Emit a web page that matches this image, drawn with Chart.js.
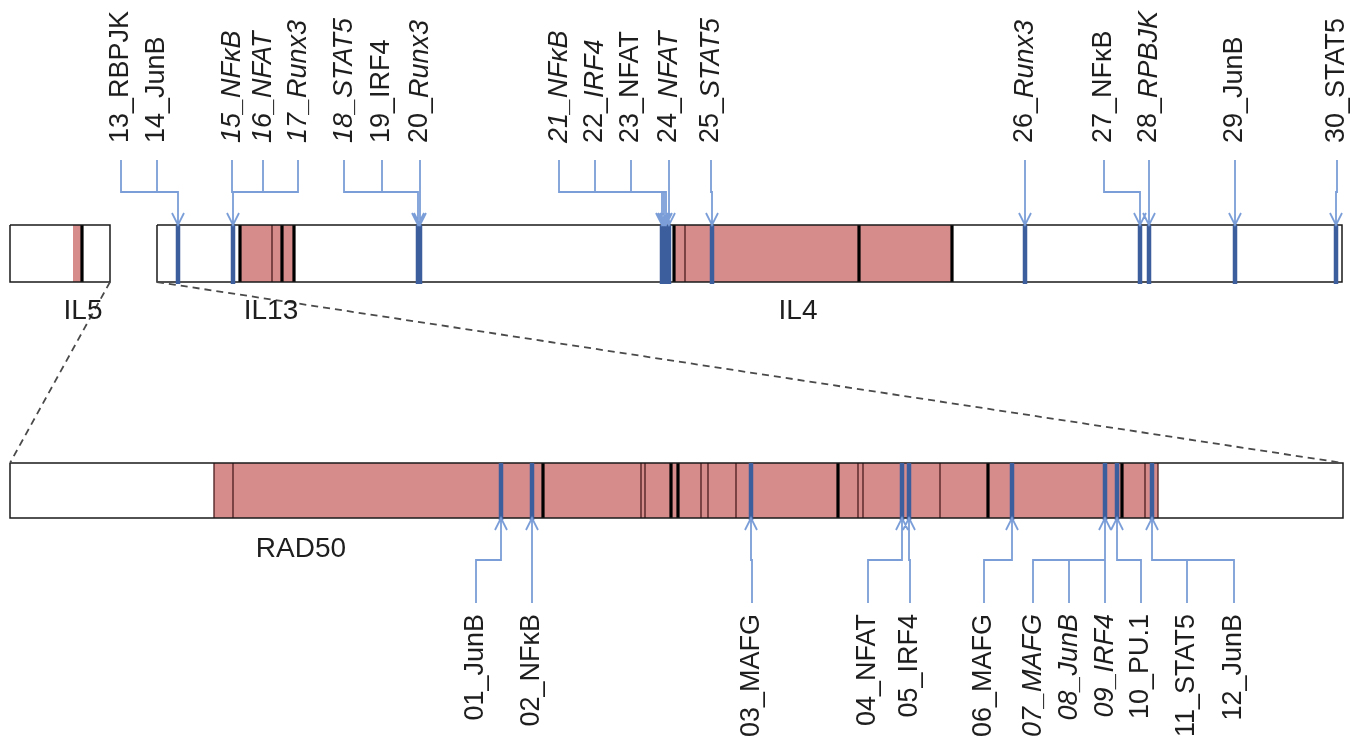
<!DOCTYPE html>
<html>
<head>
<meta charset="utf-8">
<title>IL5 / RAD50 / IL13 / IL4 motif map</title>
<script src="https://cdn.jsdelivr.net/npm/chart.js@4.4.1/dist/chart.umd.min.js"></script>
<style>
  body { margin: 0; background: #fff; }
  #wrap { width: 1368px; height: 750px; }
</style>
</head>
<body>
<div id="wrap"><canvas id="locus"></canvas></div>
<script>

// upper track: IL5 box, then IL13 + IL4 box
const topBoxes = [[10, 110], [157, 1342]];
const topExons = [[73, 82], [240, 294], [674, 952]];
const topThickBorders = [82, 240, 282, 294, 674, 859, 952];
const topThinBorders = [272, 685];

// lower track: RAD50 (zoom of the IL5-IL13 gap)
const radBoxes = [[10, 1343]];
const radExons = [[214, 1158]];
const radThickBorders = [543, 671, 678, 838, 988, 1122];
const radThinBorders = [214, 233, 641, 645, 701, 708, 736, 858, 863, 940, 1145, 1158];

const geneNames = ['IL5', 'IL13', 'IL4', 'RAD50'];
const geneNameX = [83, 271, 798, 301];
const geneTrack = ['top', 'top', 'top', 'rad'];

// motifs above the upper track
const topMotifs = ['13_RBPJK', '14_JunB', '15_NF\u03BAB', '16_NFAT', '17_Runx3', '18_STAT5',
  '19_IRF4', '20_Runx3', '21_NF\u03BAB', '22_IRF4', '23_NFAT', '24_NFAT', '25_STAT5',
  '26_Runx3', '27_NF\u03BAB', '28_RPBJK', '29_JunB', '30_STAT5'];
const topItalic = [0, 0, 2, 2, 2, 2, 0, 1, 2, 1, 0, 1, 1, 1, 0, 1, 0, 0]; // 0 upright, 1 factor italic, 2 all italic
const topLabelX = [121, 157, 232, 263, 298, 344, 382, 420, 559, 595, 631, 669, 711, 1025, 1104, 1149, 1235, 1337];
const topSites = [178, 178, 233, 233, 233, 418, 418, 420, 662, 664, 666, 669, 712, 1025, 1140, 1149, 1235, 1336];

// motifs below the RAD50 track
const radMotifs = ['01_JunB', '02_NF\u03BAB', '03_MAFG', '04_NFAT', '05_IRF4', '06_MAFG',
  '07_MAFG', '08_JunB', '09_IRF4', '10_PU.1', '11_STAT5', '12_JunB'];
const radItalic = [0, 0, 0, 0, 0, 0, 2, 2, 2, 0, 0, 0];
const radLabelX = [476, 532, 752, 868, 910, 984, 1033, 1069, 1105, 1141, 1187, 1234];
const radSites = [501, 532, 751, 902, 909, 1012, 1105, 1105, 1105, 1117, 1152, 1152];

// track layout (vertical, drawing units)
const TOP = { boxTop: 225, boxBottom: 282, elbow: 192, stub: 160, text: 143, nameY: 311, dir: 1 };
const RAD = { boxTop: 463, boxBottom: 518, elbow: 560, stub: 603, text: 614, nameY: 549, dir: -1 };

const FONT = '"Liberation Sans", Arial, sans-serif';

function vSegs(xs, y0, y1) {
    const pts = [];
    xs.forEach(x => pts.push({ x: x, y: y0 }, { x: x, y: y1 }, { x: x, y: null }));
    return pts;
}

function rect(r, t, b) {
    return [{ x: r[0], y: t }, { x: r[1], y: t }, { x: r[1], y: b }, { x: r[0], y: b }, { x: r[0], y: t }];
}

function outlines(boxes, L) {
    const pts = [];
    boxes.forEach(r => pts.push(...rect(r, L.boxTop, L.boxBottom), { x: r[0], y: null }));
    return pts;
}

function connectors(labelX, sites, L) {
    const pts = [];
    const tip = L.dir > 0 ? L.boxTop : L.boxBottom;
    labelX.forEach((lx, i) => {
        const sx = sites[i];
        pts.push({ x: lx, y: L.stub }, { x: lx, y: L.elbow }, { x: sx, y: L.elbow }, { x: sx, y: tip }, { x: sx, y: null });
        pts.push({ x: sx - 6, y: tip - L.dir * 12 }, { x: sx, y: tip }, { x: sx + 6, y: tip - L.dir * 12 }, { x: sx, y: null });
    });
    return pts;
}

function line(data, color, width, extra) {
    return Object.assign({ data: data, borderColor: color, borderWidth: width, fill: false, pointRadius: 0 }, extra || {});
}

// first dataset ends up on top
const datasets = [
    line(connectors(topLabelX, topSites, TOP).concat(connectors(radLabelX, radSites, RAD)), '#7b9ed8', 1.8),
    line(vSegs(topSites, TOP.boxTop, TOP.boxBottom + 2).concat(vSegs(radSites, RAD.boxTop, RAD.boxBottom + 2)), '#3c5e9c', 4.5),
    line([
        { x: topBoxes[0][1], y: TOP.boxBottom }, { x: radBoxes[0][0], y: RAD.boxTop }, { x: 0, y: null },
        { x: topBoxes[1][0], y: TOP.boxBottom }, { x: radBoxes[0][1], y: RAD.boxTop }
    ], '#4a4a4a', 1.8, { borderDash: [7, 5] }),
    line(outlines(topBoxes, TOP).concat(outlines(radBoxes, RAD)), '#1a1a1a', 1.5),
    line(vSegs(topThickBorders, TOP.boxTop, TOP.boxBottom).concat(vSegs(radThickBorders, RAD.boxTop, RAD.boxBottom)), '#000000', 3.2),
    line(vSegs(topThinBorders, TOP.boxTop, TOP.boxBottom).concat(vSegs(radThinBorders, RAD.boxTop, RAD.boxBottom)), '#4a1c1c', 1.3)
];
topExons.forEach(r => datasets.push({ data: rect(r, TOP.boxTop, TOP.boxBottom), fill: 'shape', backgroundColor: '#d78c8c', borderWidth: 0, pointRadius: 0 }));
radExons.forEach(r => datasets.push({ data: rect(r, RAD.boxTop, RAD.boxBottom), fill: 'shape', backgroundColor: '#d78c8c', borderWidth: 0, pointRadius: 0 }));

function drawRotated(ctx, xs, ys, names, styles, labelX, L) {
    const upright = '27px ' + FONT;
    const italic = 'italic 27px ' + FONT;
    names.forEach((name, i) => {
        const cut = name.indexOf('_') + 1;
        const pre = name.slice(0, cut);
        const rest = name.slice(cut);
        const preFont = styles[i] === 2 ? italic : upright;
        const restFont = styles[i] >= 1 ? italic : upright;
        ctx.font = preFont;
        const wPre = ctx.measureText(pre).width;
        ctx.font = restFont;
        const wRest = ctx.measureText(rest).width;
        const start = L.dir > 0 ? 0 : -(wPre + wRest);
        ctx.save();
        ctx.translate(xs.getPixelForValue(labelX[i]), ys.getPixelForValue(L.text));
        ctx.rotate(-Math.PI / 2);
        ctx.font = preFont;
        ctx.fillText(pre, start, 0);
        ctx.font = restFont;
        ctx.fillText(rest, start + wPre, 0);
        ctx.restore();
    });
}

const textLabels = {
    id: 'textLabels',
    afterDatasetsDraw(chart) {
        const ctx = chart.ctx;
        const xs = chart.scales.x;
        const ys = chart.scales.y;
        ctx.save();
        ctx.fillStyle = '#1e1e1e';
        ctx.textBaseline = 'middle';
        ctx.textAlign = 'center';
        ctx.font = '28px ' + FONT;
        geneNames.forEach((g, i) => {
            const L = geneTrack[i] === 'top' ? TOP : RAD;
            ctx.fillText(g, xs.getPixelForValue(geneNameX[i]), ys.getPixelForValue(L.nameY));
        });
        ctx.textAlign = 'left';
        drawRotated(ctx, xs, ys, topMotifs, topItalic, topLabelX, TOP);
        drawRotated(ctx, xs, ys, radMotifs, radItalic, radLabelX, RAD);
        ctx.restore();
    }
};

new Chart(document.getElementById('locus'), {
    type: 'line',
    data: { datasets: datasets },
    options: {
        responsive: true,
        maintainAspectRatio: false,
        devicePixelRatio: 1,
        animation: false,
        events: [],
        layout: { padding: 0 },
        spanGaps: false,
        elements: { line: { tension: 0, borderCapStyle: 'butt' }, point: { radius: 0 } },
        scales: {
            x: { type: 'linear', min: 0, max: 1368, display: false },
            y: { type: 'linear', min: 0, max: 750, reverse: true, display: false }
        },
        plugins: { legend: { display: false }, tooltip: { enabled: false } }
    },
    plugins: [textLabels]
});
</script>
</body>
</html>
